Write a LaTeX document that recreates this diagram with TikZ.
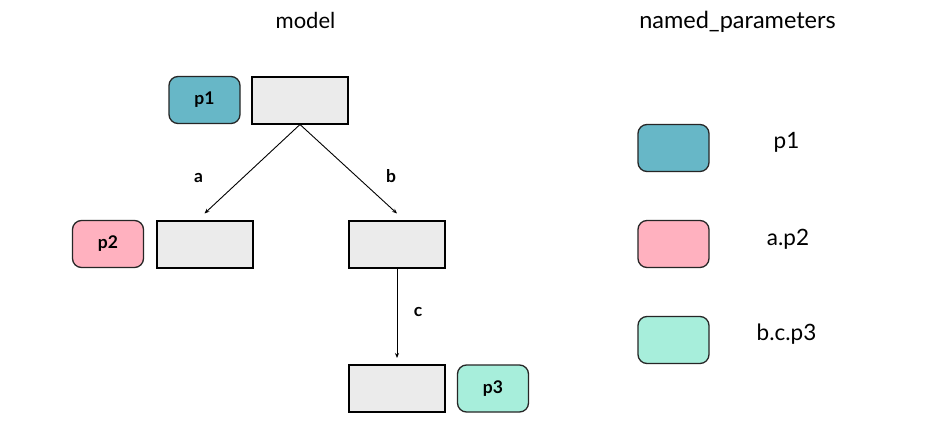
\documentclass[tikz,border=0pt]{standalone}
\usepackage{fontspec}
\setmainfont{Lato}
\usetikzlibrary{arrows.meta}
\definecolor{pone}{HTML}{67B7C7}
\definecolor{ptwo}{HTML}{FFB1BF}
\definecolor{pthree}{HTML}{A7EEDB}
\definecolor{boxgray}{HTML}{EBEBEB}
\begin{document}
\begin{tikzpicture}[x=1pt,y=-1pt,
  modbox/.style={draw=black,line width=2pt,fill=boxgray,minimum width=96pt,minimum height=47pt,inner sep=0pt},
  pill/.style={draw=black!85,line width=1.3pt,rounded corners=9pt,minimum width=71pt,minimum height=47pt,inner sep=0pt,font=\fontsize{17.5}{20}\selectfont\bfseries},
  edgelbl/.style={font=\fontsize{17.5}{20}\selectfont\bfseries,inner sep=0pt},
  title/.style={font=\fontsize{22}{26}\selectfont,inner sep=0pt,anchor=base},
  legtext/.style={font=\fontsize{22.5}{26}\selectfont,inner sep=0pt,anchor=base},
  conn/.style={line width=0.9pt,-{Stealth[length=5pt,width=4pt]}}]
\useasboundingbox[fill=white] (0,0) rectangle (930,447);
\node[title] (tmodel) at (305.5,28) {model};
\node[title,font=\fontsize{23.5}{27}\selectfont] (tnamed) at (737.5,28) {named\_parameters};
\node[modbox] (top) at (300,100) {};
\node[pill,fill=pone] (p1) at (204.5,100) {p1};
\node[modbox] (left) at (204.5,244) {};
\node[pill,fill=ptwo] (p2) at (108,244) {p2};
\node[modbox] (right) at (397,244) {};
\node[modbox] (bottom) at (397,388.5) {};
\node[pill,fill=pthree] (p3) at (493,388.5) {p3};
\coordinate (la) at ([yshift=6pt]left.north);
\coordinate (ra) at ([yshift=6pt]right.north);
\coordinate (ba) at ([yshift=6pt]bottom.north);
\draw[conn] (top.south) -- (la);
\draw[conn] (top.south) -- (ra);
\draw[conn] (right.south) -- (ba);
\node[edgelbl] (la-t) at (198.5,178) {a};
\node[edgelbl] (lb-t) at (391,176.5) {b};
\node[edgelbl] (lc-t) at (418,312) {c};
\node[pill,fill=pone] (l1) at (673.5,148) {};
\node[pill,fill=ptwo] (l2) at (673.5,244) {};
\node[pill,fill=pthree] (l3) at (673.5,340) {};
\node[legtext] (t1) at (786.5,148) {p1};
\node[legtext] (t2) at (788,245) {a.p2};
\node[legtext] (t3) at (786.5,340) {b.c.p3};
\end{tikzpicture}
\end{document}
